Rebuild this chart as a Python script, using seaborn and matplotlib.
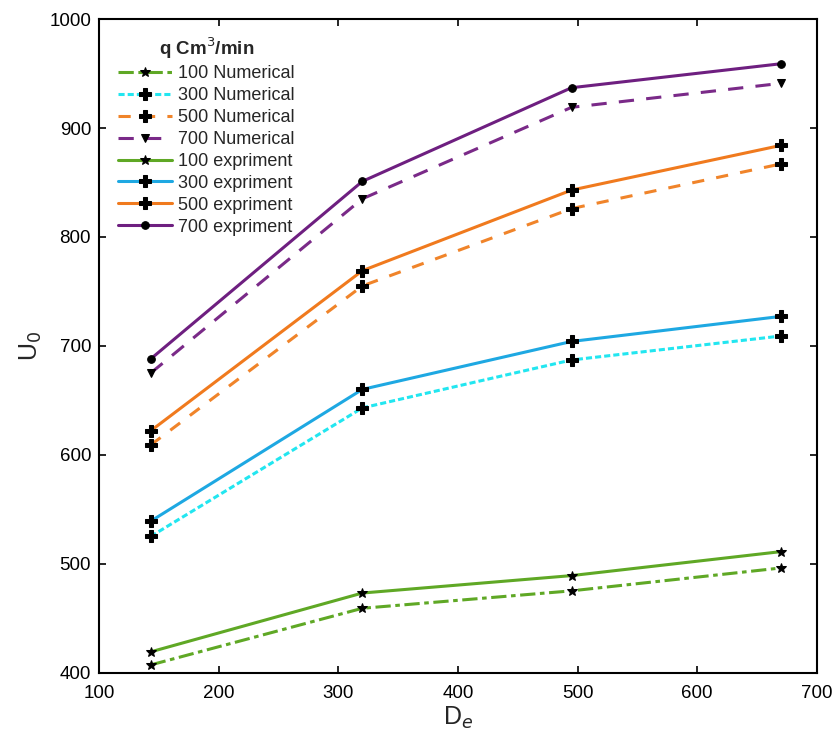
import matplotlib
matplotlib.use("Agg")
import matplotlib.pyplot as plt
import seaborn as sns
import pandas as pd

sns.set_style("ticks")
plt.rcParams['font.family'] = ['Liberation Sans', 'DejaVu Sans']

De = [143, 320, 495, 670]

num_100 = [407, 459, 475, 496]
num_300 = [525, 643, 687, 709]
num_500 = [609, 755, 826, 867]
num_700 = [675, 835, 919, 941]
exp_100 = [419, 473, 489, 511]
exp_300 = [539, 660, 704, 727]
exp_500 = [622, 769, 843, 884]
exp_700 = [688, 851, 937, 959]

labels = ["100 Numerical", "300 Numerical", "500 Numerical", "700 Numerical",
          "100 expriment", "300 expriment", "500 expriment", "700 expriment"]
series = [num_100, num_300, num_500, num_700, exp_100, exp_300, exp_500, exp_700]

colors = ["#5fa825", "#22e6f0", "#f0842a", "#7a2a88",
          "#5fa825", "#1ea8e2", "#f07a1e", "#6e1f80"]
styles = [(0, (5, 1.5, 1.5, 1.5)), (0, (2, 1)), (0, (4, 4)), (0, (5, 4)),
          "-", "-", "-", "-"]
markers = ["*", "P", "P", "v", "*", "P", "P", "o"]
msizes = [7, 8, 8, 6, 7, 8, 8, 5.5]

fig, ax = plt.subplots(figsize=(8.35, 7.35), dpi=100)
fig.subplots_adjust(left=0.119, right=0.978, top=0.974, bottom=0.085)

for lab, vals, c, ls, m, ms in zip(labels, series, colors, styles, markers, msizes):
    df = pd.DataFrame({"De": De, "U0": vals})
    sns.lineplot(data=df, x="De", y="U0", ax=ax, color=c, linestyle=ls,
                 linewidth=2.2, marker=m, markersize=ms,
                 markerfacecolor="black", markeredgecolor="black",
                 label=lab)

ax.set_xlim(100, 700)
ax.set_ylim(400, 1000)
ax.set_xticks([100, 200, 300, 400, 500, 600, 700])
ax.set_yticks([400, 500, 600, 700, 800, 900, 1000])
ax.tick_params(direction="in", top=True, right=True, length=5, width=1.2,
               labelsize=13.5, colors="black")
ax.tick_params(axis="x", pad=9)
ax.tick_params(axis="y", pad=6)
for s in ax.spines.values():
    s.set_linewidth(1.5)
    s.set_color("black")
ax.set_xlabel("D$_e$", fontsize=18, labelpad=2)
ax.set_ylabel("U$_0$", fontsize=18)

leg = ax.legend(loc="upper left", frameon=False, fontsize=13,
                title="q Cm$^3$/min", handlelength=3.0, handletextpad=0.35,
                borderaxespad=0.3, labelspacing=0.27,
                bbox_to_anchor=(0.008, 0.995))
leg.get_title().set_fontweight("bold")
leg.get_title().set_fontsize(13.5)

fig.savefig("out.png", dpi=100, facecolor="white")
